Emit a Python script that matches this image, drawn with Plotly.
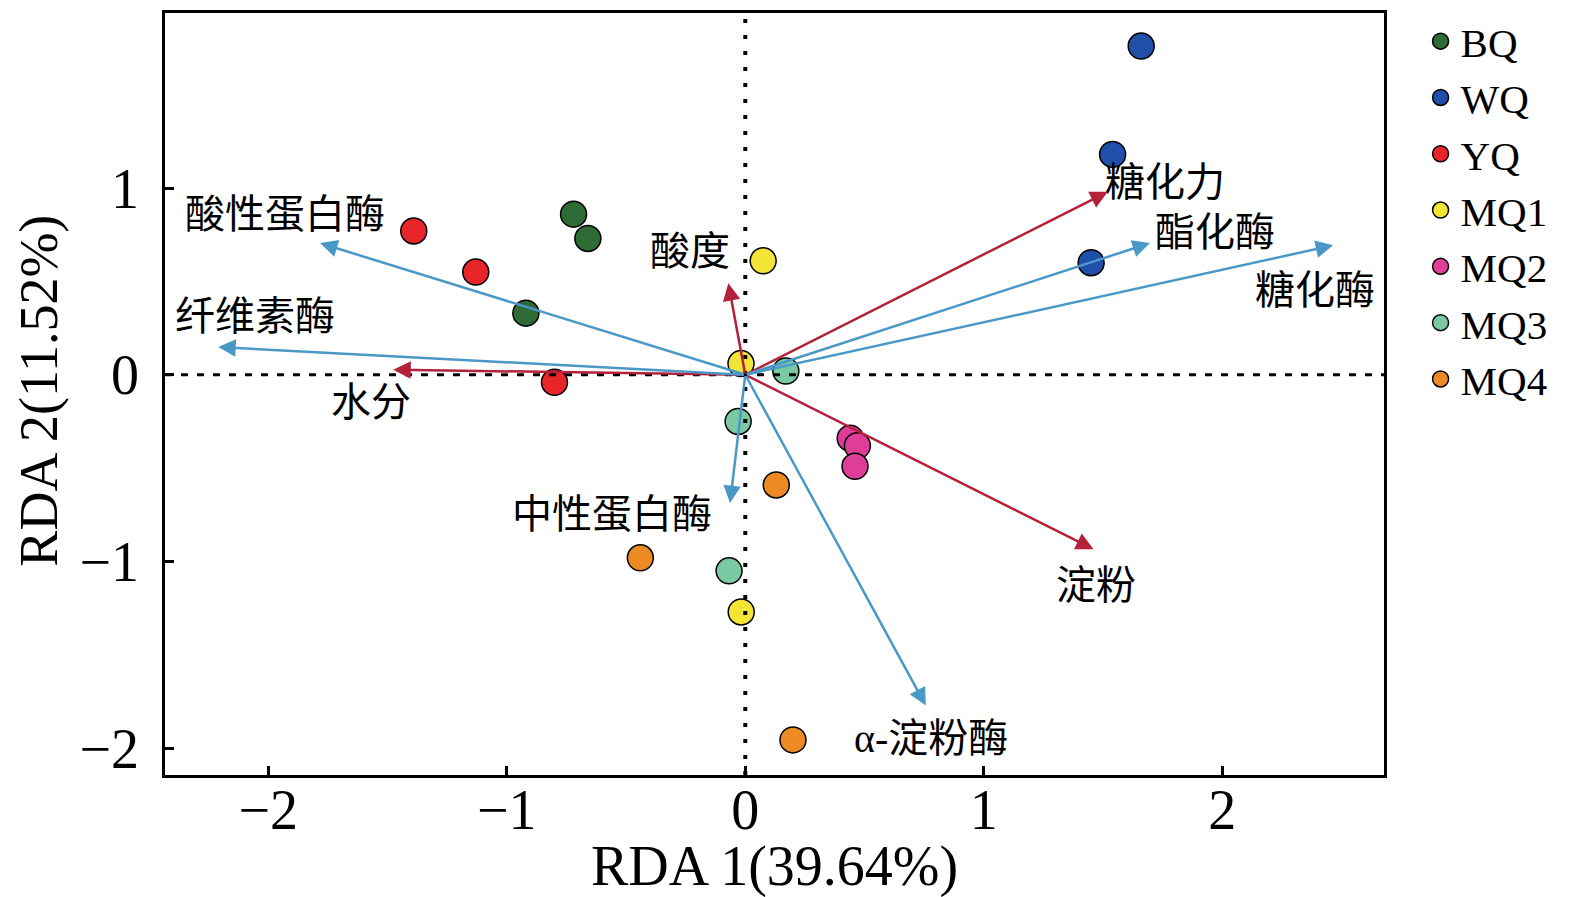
import plotly.graph_objects as go

# sample scores on RDA1 / RDA2
groups = ["BQ", "WQ", "YQ", "MQ1", "MQ2", "MQ3", "MQ4"]
group_colors = ["#2E6B35", "#1F4FA8", "#E8262A", "#F2E536", "#DE3E98", "#7AC9A2", "#EE8A24"]

bq_x = [-0.72, -0.66, -0.92]
bq_y = [0.86, 0.73, 0.33]
wq_x = [1.66, 1.54, 1.45]
wq_y = [1.76, 1.18, 0.60]
yq_x = [-1.39, -1.13, -0.80]
yq_y = [0.77, 0.55, -0.04]
mq1_x = [0.075, -0.018, -0.017]
mq1_y = [0.61, 0.06, -1.27]
mq2_x = [0.44, 0.47, 0.46]
mq2_y = [-0.34, -0.38, -0.49]
mq3_x = [0.17, -0.03, -0.068]
mq3_y = [0.02, -0.25, -1.05]
mq4_x = [0.13, -0.44, 0.20]
mq4_y = [-0.59, -0.98, -1.955]

# explanatory variables (arrow tips)
red_vars = ["糖化力", "淀粉", "水分", "酸度"]
red_x = [1.52, 1.46, -1.476, -0.071]
red_y = [0.98, -0.934, 0.027, 0.49]
blue_vars = ["酸性蛋白酶", "纤维素酶", "酯化酶", "糖化酶", "中性蛋白酶", "α-淀粉酶"]
blue_x = [-1.783, -2.21, 1.697, 2.465, -0.064, 0.757]
blue_y = [0.705, 0.148, 0.705, 0.693, -0.687, -1.771]

xs = [bq_x, wq_x, yq_x, mq1_x, mq2_x, mq3_x, mq4_x]
ys = [bq_y, wq_y, yq_y, mq1_y, mq2_y, mq3_y, mq4_y]

serif = "Liberation Serif, Noto Sans CJK SC"

fig = go.Figure()
for g, col, x, y in zip(groups, group_colors, xs, ys):
    fig.add_trace(go.Scatter(
        x=x, y=y, mode="markers", name=g,
        marker=dict(size=26, color=col, line=dict(color="black", width=1.5))
    ))

# label placement for each arrow (data coords)
red_label = {"糖化力": (1.76, 1.03), "淀粉": (1.47, -1.13), "水分": (-1.57, -0.15), "酸度": (-0.23, 0.66)}
blue_label = {"酸性蛋白酶": (-1.93, 0.86), "纤维素酶": (-2.055, 0.31), "酯化酶": (1.97, 0.76),
              "糖化酶": (2.39, 0.45), "中性蛋白酶": (-0.56, -0.75), "α-淀粉酶": (0.78, -1.95)}

annos = []
for names, tx, ty, col, lab in [(red_vars, red_x, red_y, "#B3213A", red_label),
                                (blue_vars, blue_x, blue_y, "#4A98C8", blue_label)]:
    for n, x, y in zip(names, tx, ty):
        annos.append(dict(x=x, y=y, ax=0, ay=0, xref="x", yref="y", axref="x", ayref="y",
                          text="", showarrow=True, arrowhead=2, arrowsize=1.4, arrowwidth=2.5,
                          arrowcolor=col, standoff=0))
        lx, ly = lab[n]
        annos.append(dict(x=lx, y=ly, xref="x", yref="y", text=n, showarrow=False,
                          font=dict(family=serif, size=40, color="black")))

# axis titles
annos.append(dict(x=0.5, y=-0.12, xref="paper", yref="paper", text="RDA 1(39.64%)",
                  showarrow=False, xanchor="center", yanchor="middle",
                  font=dict(family=serif, size=56, color="black")))
annos.append(dict(x=-0.103, y=0.505, xref="paper", yref="paper", text="RDA 2(11.52%)",
                  showarrow=False, xanchor="center", yanchor="middle", textangle=-90,
                  font=dict(family=serif, size=54, color="black")))

fig.add_shape(type="line", x0=0, x1=0, y0=0, y1=1, xref="x", yref="paper",
              line=dict(color="black", width=4, dash="4px,12px"), layer="above")
fig.add_shape(type="line", x0=0, x1=1, y0=0, y1=0, xref="paper", yref="y",
              line=dict(color="black", width=3, dash="7px,9px"), layer="above")

axis_style = dict(showline=True, mirror=True, linecolor="black", linewidth=2.5,
                  ticks="inside", ticklen=9, tickwidth=2.5, tickcolor="black",
                  showgrid=False, zeroline=False, automargin=False,
                  tickfont=dict(family=serif, size=56, color="black"))

fig.update_xaxes(axis_style, range=[-2.433, 2.678], tickvals=[-2, -1, 0, 1, 2],
                 ticklabelstandoff=-16)
fig.update_yaxes(axis_style, range=[-2.143, 1.937], tickvals=[-2, -1, 0, 1],
                 ticklabelstandoff=12)

fig.update_layout(
    width=1593, height=897,
    margin=dict(l=157, r=217, t=5, b=130, autoexpand=False),
    plot_bgcolor="white", paper_bgcolor="white",
    annotations=annos,
    legend=dict(x=1.03, y=1.0, yref="container", xanchor="left", yanchor="top",
                font=dict(family=serif, size=41, color="black"),
                tracegroupgap=0, bgcolor="rgba(0,0,0,0)", borderwidth=0),
    showlegend=True
)

fig.write_html("out.html")
